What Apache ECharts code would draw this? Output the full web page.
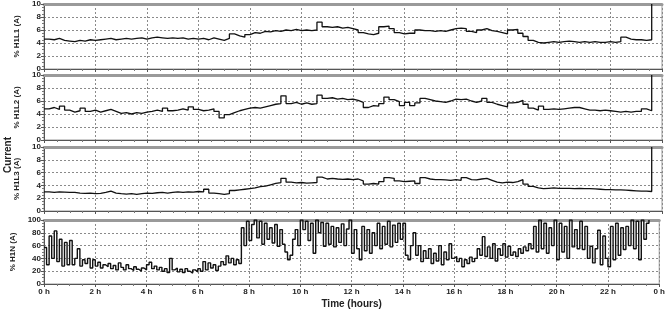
<!DOCTYPE html>
<html>
<head>
<meta charset="utf-8">
<script src="https://cdn.jsdelivr.net/npm/echarts@6/dist/echarts.min.js"></script>
<style>
  html, body { margin: 0; padding: 0; background: #fff; }
  #chart { width: 668px; height: 310px; }
</style>
</head>
<body>
<div id="chart"></div>
<script>
// hours between samples
const stepL = 0.2;
const stepN = 0.1;

const hourLabels = ["0 h", "2 h", "4 h", "6 h", "8 h", "10 h", "12 h", "14 h", "16 h", "18 h", "20 h", "22 h", "0 h"];
const panelNames = ["% H1L1 (A)", "% H1L2 (A)", "% H1L3 (A)", "% H1N (A)"];

// % H1L1, every 0.2 h
const h1l1 = [
  4.6, 4.5, 4.7, 4.4, 4.3, 4.2,
  4.4, 4.3, 4.5, 4.4, 4.5,
  4.6, 4.7, 4.5, 4.6, 4.7,
  4.6, 4.7, 4.8, 4.6, 4.8,
  4.9, 4.8, 4.7, 4.8, 4.7,
  4.8, 4.6, 4.7, 4.6, 4.7,
  4.5, 4.8, 4.6, 4.4, 4.7,
  5.4, 5.1, 4.9, 5.3, 5.6,
  5.5, 5.8, 5.7, 5.9, 5.8,
  6.0, 5.9, 6.1, 5.9, 6.0,
  5.9, 6.0, 7.2, 6.5, 6.4,
  6.5, 6.3, 6.4, 6.2, 6.0,
  5.6, 5.4, 5.3, 5.5, 6.5,
  6.6, 6.2, 5.6, 5.4, 5.5,
  5.5, 6.0, 5.9, 5.9, 5.8,
  5.9, 5.8, 6.0, 6.2, 6.3,
  6.2, 5.8, 5.6, 6.0, 6.2,
  5.9, 5.8, 5.6, 5.4, 6.0,
  6.1, 5.5, 5.0, 4.4, 4.1,
  4.0, 4.1, 4.2, 4.1, 4.2,
  4.3, 4.2, 4.1, 4.2, 4.1,
  4.2, 4.1, 4.1, 4.2, 4.1,
  4.2, 4.9, 4.6, 4.5, 4.5,
  4.4, 4.5, 10
];

// % H1L2, every 0.2 h
const h1l2 = [
  4.8, 5.0, 4.7, 5.2, 4.6, 4.3,
  4.5, 4.9, 4.4, 4.6, 4.3,
  4.5, 4.7, 4.4, 4.1, 4.2,
  4.0, 4.2, 4.1, 4.3, 4.4,
  4.6, 4.4, 4.9, 4.5, 4.6,
  4.8, 4.6, 5.1, 4.7, 4.5,
  4.6, 4.8, 4.4, 3.4, 3.9,
  4.2, 4.5, 4.7, 4.9, 5.0,
  4.9, 5.1, 5.3, 5.5, 5.6,
  6.8, 5.6, 5.8, 5.5, 5.7,
  5.5, 5.6, 6.9, 6.4, 6.5,
  6.3, 6.4, 6.2, 6.3, 6.1,
  5.8, 5.0, 5.3, 5.2, 5.6,
  6.6, 6.2, 5.9, 5.3, 5.8,
  5.3, 5.7, 6.4, 6.2, 6.0,
  5.9, 5.8, 6.0, 6.3, 6.2,
  6.3, 6.0, 5.8, 6.0, 6.4,
  5.8, 5.5, 5.3, 5.1, 5.7,
  5.8, 6.1, 5.5, 4.9, 4.6,
  5.2, 4.7, 4.8, 4.7, 4.8,
  4.9, 5.0, 5.0, 4.8, 4.6,
  4.6, 4.5, 4.6, 4.5, 4.4,
  4.3, 4.4, 4.3, 4.4, 4.4,
  4.8, 4.5, 10
];

// % H1L3, every 0.2 h
const h1l3 = [
  3.0, 2.9, 3.0, 2.95, 2.9, 2.9,
  2.8, 2.75, 2.8, 2.7, 2.75,
  2.9, 3.1, 2.8, 2.7, 2.65,
  2.7, 2.6, 2.7, 2.8, 2.75,
  2.85, 2.9, 2.8, 2.9, 3.0,
  2.9, 3.0, 2.95, 3.05, 3.0,
  3.4, 2.8, 2.7, 2.6, 2.7,
  3.2, 3.3, 3.4, 3.5, 3.6,
  3.8, 3.9, 4.1, 4.3, 4.45,
  5.1, 4.5, 4.4, 4.45, 4.35,
  4.4, 4.45, 5.3, 5.0, 5.1,
  5.0, 4.95, 5.0, 4.9, 5.0,
  4.7, 4.2, 4.3, 4.2, 4.6,
  5.2, 5.1, 4.7, 4.6, 4.65,
  4.7, 4.3, 5.2, 5.0, 4.9,
  4.9, 4.85, 4.8, 4.9, 4.8,
  5.2, 4.9, 4.85, 5.0, 5.1,
  4.8, 4.5, 4.4, 4.5, 4.45,
  4.6, 4.9, 4.2, 3.85, 3.6,
  3.5, 3.55, 3.6, 3.55, 3.55,
  3.55, 3.5, 3.55, 3.5, 3.5,
  3.45, 3.4, 3.35, 3.35, 3.3,
  3.3, 3.25, 3.2, 3.15, 3.1,
  3.1, 3.05, 10
];

// % H1N, every 0.1 h
const h1n = [
  57, 30, 75, 40, 83, 35, 70, 28, 65, 30,
  68, 30, 40, 55, 28, 38, 32, 40, 25, 38,
  28, 34, 25, 30, 27, 32, 24, 29, 22, 33,
  26, 22, 30, 24, 21, 27, 23, 20, 25, 22,
  30, 34, 24, 28, 22, 26, 20, 24, 18, 40,
  22, 25, 19, 23, 18, 24, 20, 17, 22, 19,
  24, 20, 35, 22, 33, 25, 30, 21, 28, 35,
  30, 44, 33, 40, 30, 38, 32, 88, 60, 98,
  68, 93, 100, 72, 98, 62, 95, 70, 88, 64,
  93, 59, 85, 62, 50, 38, 45, 70, 85, 60,
  100, 85, 98, 68, 95, 48, 100, 80, 96, 59,
  95, 62, 90, 58, 88, 65, 94, 60, 86, 100,
  48, 85, 55, 38, 90, 52, 85, 48, 80, 60,
  95, 55, 90, 62, 98, 58, 92, 65, 95, 70,
  95, 45, 38, 60, 80, 45, 60, 35, 52, 40,
  55, 32, 48, 36, 60, 30, 50, 38, 63, 40,
  43, 35, 40, 27, 38, 32, 42, 35, 40, 55,
  45, 74, 43, 58, 40, 63, 36, 55, 45, 63,
  42, 59, 45, 50, 43, 55, 48, 58, 52, 63,
  55, 90, 50, 100, 55, 95, 48, 88, 60, 100,
  38, 95, 50, 90, 40, 100, 58, 85, 55, 98,
  54, 90, 40, 59, 33, 55, 84, 30, 75, 40,
  27, 90, 38, 95, 45, 88, 54, 90, 60, 100,
  55, 98, 38, 100, 70, 95, 100
];

const chart = echarts.init(document.getElementById("chart"), null, { renderer: "canvas" });

const font = "Liberation Sans, Arial, sans-serif";
const grids = [
  { left: 44, right: 6, top: 4, height: 65 },
  { left: 44, right: 6, top: 75, height: 65 },
  { left: 44, right: 6, top: 147, height: 64 },
  { left: 44, right: 6, top: 220, height: 64 }
];

const dotted = { show: true, lineStyle: { color: "#8a8a8a", type: [2, 2], width: 1 } };

const xAxes = [];
const yAxes = [];
grids.forEach((g, i) => {
  const last = i === grids.length - 1;
  xAxes.push({
    type: "value", gridIndex: i, min: 0, max: 24, interval: 2,
    axisLine: { show: true, onZero: false, lineStyle: { color: "#555", width: 1 } },
    axisTick: { show: true, length: 3, lineStyle: { color: "#555" } },
    minorTick: { show: true, splitNumber: 4, length: 2, lineStyle: { color: "#777" } },
    splitLine: dotted,
    axisLabel: {
      show: last, color: "#222", fontSize: 8, fontWeight: "bold", fontFamily: font, margin: 4,
      formatter: (v) => hourLabels[Math.round(v / 2)]
    },
    name: last ? "Time (hours)" : "",
    nameLocation: "middle", nameGap: 15,
    nameTextStyle: { color: "#222", fontSize: 10, fontWeight: "bold", fontFamily: font }
  });
  // thick grey top edge of each panel
  xAxes.push({
    type: "value", gridIndex: i, min: 0, max: 24, position: "top",
    axisLine: { show: true, onZero: false, lineStyle: { color: "#9a9a9a", width: 3 } },
    axisTick: { show: false }, axisLabel: { show: false }, splitLine: { show: false }
  });
  const isN = i === 3;
  yAxes.push({
    type: "value", gridIndex: i, min: 0, max: isN ? 100 : 10, interval: isN ? 20 : 2,
    axisLine: { show: true, onZero: false, lineStyle: { color: "#555" } },
    axisTick: { show: true, length: 3, lineStyle: { color: "#555" } },
    minorTick: { show: true, splitNumber: 4, length: 2, lineStyle: { color: "#777" } },
    splitLine: dotted,
    axisLabel: { color: "#222", fontSize: 8, fontWeight: "bold", fontFamily: font, margin: 3 },
    name: panelNames[i], nameLocation: "middle", nameGap: 9,
    nameTextStyle: { color: "#222", fontSize: 8, fontWeight: "bold", fontFamily: font }
  });
});

const toPts = (vals, step) => vals.map((v, i) => [+(i * step).toFixed(2), v]);
const lineSeries = (vals, step, idx, width) => ({
  type: "line", xAxisIndex: idx * 2, yAxisIndex: idx,
  data: toPts(vals, step), symbol: "none", silent: true, step: "end",
  lineStyle: { color: "#111", width: width }
});

chart.setOption({
  animation: false,
  backgroundColor: "#fff",
  grid: grids.map((g) => Object.assign({ show: true, borderColor: "#9a9a9a", borderWidth: 1 }, g)),
  xAxis: xAxes,
  yAxis: yAxes,
  graphic: [{
    type: "text", x: 8, y: 155, rotation: Math.PI / 2,
    style: { text: "Current", fill: "#222", font: "bold 10px " + font, align: "center", verticalAlign: "middle" }
  }],
  series: [
    lineSeries(h1l1, stepL, 0, 1.3),
    lineSeries(h1l2, stepL, 1, 1.3),
    lineSeries(h1l3, stepL, 2, 1.3),
    lineSeries(h1n, stepN, 3, 1.4)
  ]
});
</script>
</body>
</html>
